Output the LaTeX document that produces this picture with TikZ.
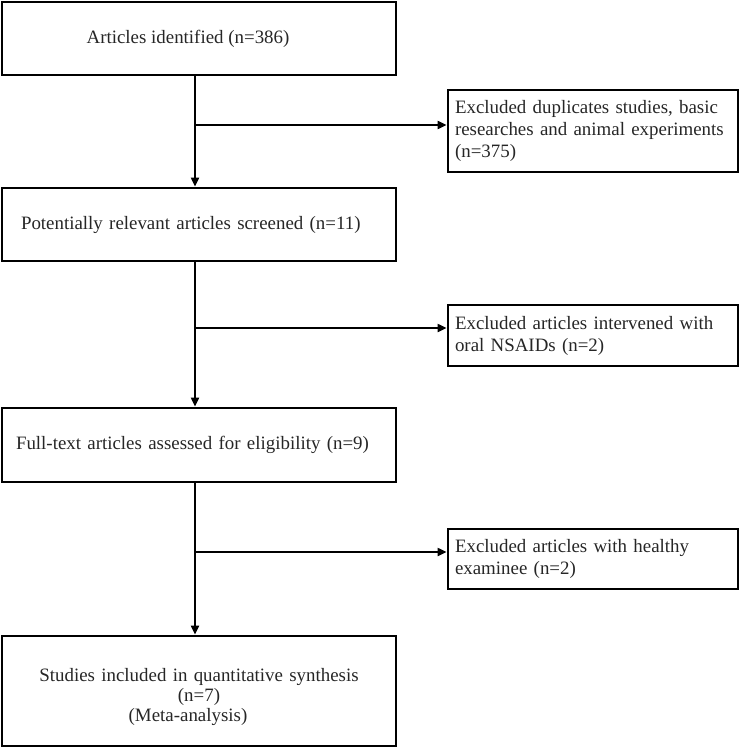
\documentclass[tikz,border=0pt]{standalone}
\usepackage{fontspec}
\setmainfont{Liberation Serif}
\usetikzlibrary{arrows.meta}
\begin{document}
\begin{tikzpicture}[x=1pt,y=-1pt,
  box/.style={draw=black,line width=2.8pt,inner sep=0pt,minimum width=394pt,
    text=black!85,font=\fontsize{18.9}{22}\selectfont},
  leftbox/.style={box,text width=394pt,align=left},
  exbox/.style={draw=black,line width=2.8pt,inner xsep=7pt,inner ysep=0pt,
    minimum width=290pt,text width=276pt,align=left,
    text=black!85,font=\fontsize{18.9}{22}\selectfont},
  arr/.style={draw=black,line width=2pt,-{Triangle[length=9pt,width=8pt]}},
  ln/.style={draw=black,line width=2pt}]
\useasboundingbox (0,0) rectangle (740,749);
\node[box,align=center,minimum height=73pt] (b1) at (199,38.5)
  {Articles identified (n=386)\hspace*{22pt}};
\node[leftbox,minimum height=73pt] (b2) at (199,224.5)
  {\hspace*{19pt}Potentially relevant articles screened (n=11)};
\node[leftbox,minimum height=74pt] (b3) at (199,445)
  {\hspace*{14pt}Full-text articles assessed for eligibility (n=9)};
\node[box,align=center,minimum height=110pt,text width=394pt,
  font=\fontsize{18.9}{20}\selectfont] (b4) at (199,691)
  {\rule{0pt}{26pt}Studies included in quantitative synthesis\hspace*{22pt}\\
   (n=7)\hspace*{22pt}\\(Meta-analysis)\hspace*{22pt}};
\node[exbox,minimum height=82pt] (e1) at (593,131)
  {Excluded duplicates studies, basic\\researches and animal experiments\\(n=375)};
\node[exbox,minimum height=61pt] (e2) at (593,335.5)
  {Excluded articles intervened with\\oral NSAIDs (n=2)\\[6pt]};
\node[exbox,minimum height=60pt] (e3) at (593,559)
  {Excluded articles with healthy\\examinee (n=2)\\[6pt]};
\coordinate (j1) at (195,125);
\coordinate (j2) at (195,328);
\coordinate (j3) at (195,552);
\draw[arr] (b1.south -| j1) -- (b2.north -| j1);
\draw[arr] (b2.south -| j2) -- (b3.north -| j2);
\draw[arr] (b3.south -| j3) -- (b4.north -| j3);
\draw[arr] (j1) -- (j1 -| e1.west);
\draw[arr] (j2) -- (j2 -| e2.west);
\draw[arr] (j3) -- (j3 -| e3.west);
\end{tikzpicture}
\end{document}
